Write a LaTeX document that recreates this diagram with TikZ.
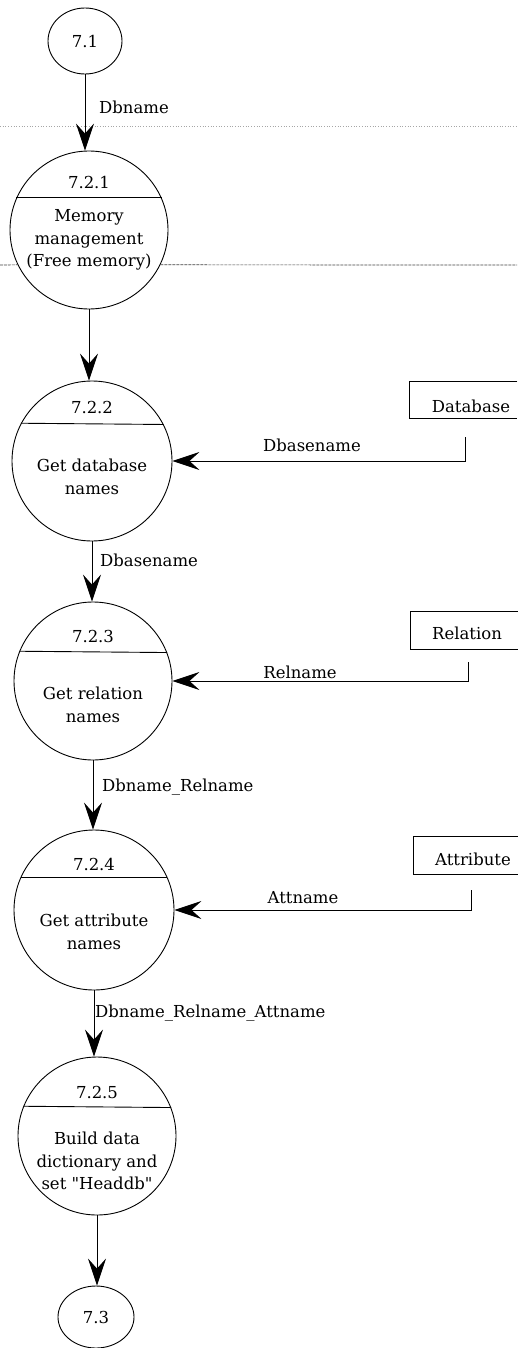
\documentclass[tikz,border=0pt]{standalone}
\usepackage{fontspec}
\setmainfont{DejaVu Serif}[Ligatures=TeXOff]
\usetikzlibrary{arrows.meta,shapes.geometric}
\begin{document}
\begin{tikzpicture}[x=1pt,y=-1pt,
  proc/.style={circle,draw,line width=0.9pt,minimum size=158pt,inner sep=0pt},
  term/.style={ellipse,draw,line width=0.9pt,inner sep=0pt},
  storebox/.style={rectangle,minimum width=108pt,minimum height=37pt,inner sep=0pt,anchor=west},
  txt/.style={font=\fontsize{16.5}{22.5}\selectfont,inner sep=0pt,align=center},
  lbl/.style={font=\fontsize{16.5}{22.5}\selectfont,inner sep=0pt,anchor=west},
  flow/.style={line width=0.9pt,-{Stealth[length=27pt,width=18pt,inset=10pt]}},
  rule/.style={line width=0.9pt},
]
\useasboundingbox (0,0) rectangle (517,1348);

% page guide line
\draw[gray!70,line width=0.7pt,dotted] (0,126) -- (517,126);

% terminators
\node[term,minimum width=74pt,minimum height=66pt] (t71) at (85,41) {};
\node[txt] (t71l) at (85,41) {7.1};
\node[term,minimum width=76pt,minimum height=62pt] (t73) at (96,1317) {};
\node[txt] (t73l) at (96,1317) {7.3};

% processes
\node[proc] (p221) at (89,230) {};
\node[proc,minimum size=160pt] (p222) at (92,461) {};
\node[proc] (p223) at (93,681) {};
\node[proc,minimum size=160pt] (p224) at (94,910) {};
\node[proc] (p225) at (97,1136) {};

% header separators inside the process circles
\draw[rule] (p221.156) -- (p221.24);
\draw[rule] (p222.152.5) -- (p222.27.5);
\draw[rule] (p223.158.5) -- (p223.21.5);
\draw[rule] (p224.156) -- (p224.24);
\draw[rule] (p225.158.5) -- (p225.21.5);

% process numbers
\node[txt] (n221) at (89,182) {7.2.1};
\node[txt] (n222) at (92,407) {7.2.2};
\node[txt] (n223) at (93,636) {7.2.3};
\node[txt] (n224) at (94,864) {7.2.4};
\node[txt] (n225) at (97,1092) {7.2.5};

% process descriptions
\node[txt] (d221) at (89,240) {Memory\\management\\(Free memory)};
\node[txt] (d222) at (92,477) {Get database\\names};
\node[txt] (d223) at (93,705) {Get relation\\names};
\node[txt] (d224) at (94,932) {Get attribute\\names};
\node[txt] (d225) at (97,1161) {Build data\\dictionary and\\set "Headdb"};

% second guide line, interrupted by the first process
\draw[black!75,line width=0.7pt,dash pattern=on 3pt off 1pt] (0,265) -- (p221.206);
\draw[black!75,line width=0.7pt,dash pattern=on 3pt off 1pt] (p221.334) -- (517,265);

% data stores (open at the right edge)
\node[storebox] (dbbox) at (409,400) {};
\node[storebox] (relbox) at (410,630.5) {};
\node[storebox] (attbox) at (413,855.5) {};
\foreach \s in {dbbox,relbox,attbox}
  \draw[rule] (\s.north east) -- (\s.north west) -- (\s.south west) -- (\s.south east);
\node[txt] (dbtxt) at (471,406) {Database};
\node[txt] (reltxt) at (467,633) {Relation};
\node[txt] (atttxt) at (473,859) {Attribute};

% taps below the stores
\coordinate (dbtap) at (465,437);
\coordinate (reltap) at (468,662);
\coordinate (atttap) at (471,890);

% main flow
\draw[flow] (t71.south) -- (t71.south |- p221.north);
\draw[flow] (p221.south) -- (p221.south |- p222.north);
\draw[flow] (p222.south) -- (p222.south |- p223.north);
\draw[flow] (p223.south) -- (p223.south |- p224.north);
\draw[flow] (p224.south) -- (p224.south |- p225.north);
\draw[flow] (p225.south) -- (p225.south |- t73.north);

% store reads
\draw[flow] (dbtap) |- (p222.east);
\draw[flow] (reltap) |- (p223.east);
\draw[flow] (atttap) |- (p224.east);

% flow labels
\node[lbl] (l1) at (99,107) {Dbname};
\node[lbl] (l2) at (100,560) {Dbasename};
\node[lbl] (l3) at (102,787) {Dbname\_Relname};
\node[lbl] (l4) at (95,1013) {Dbname\_Relname\_Attname};
\node[txt] (l5) at (312,445) {Dbasename};
\node[txt] (l6) at (300,672) {Relname};
\node[txt] (l7) at (303,898) {Attname};
\end{tikzpicture}
\end{document}
